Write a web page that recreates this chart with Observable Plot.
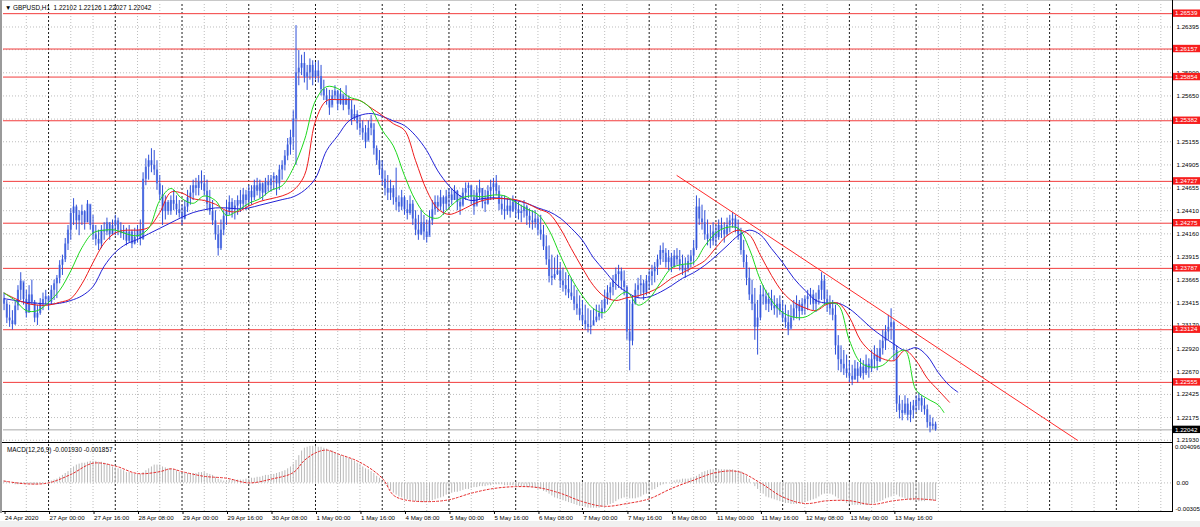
<!DOCTYPE html>
<html><head><meta charset="utf-8">
<script src="https://cdn.jsdelivr.net/npm/d3@7"></script>
<script src="https://cdn.jsdelivr.net/npm/@observablehq/plot@0.6"></script>
<style>
html,body{margin:0;padding:0;background:#fff;}
#wrap{position:relative;width:1200px;height:527px;overflow:hidden;background:#fff;font-family:"Liberation Sans",Arial,sans-serif;}
#wrap svg{position:absolute;left:0;overflow:visible;}
.txt{position:absolute;font-size:6.4px;color:#000;white-space:pre;line-height:7px;}
.ln{position:absolute;background:#000;}
</style></head><body><div id="wrap"></div>
<script>
// ---------- DATA ----------
const firstBar = -16; // bar index of first candle (24 Apr 2020 08:00); 27 Apr 00:00 = 0
const open = [
1.2345,1.2340,1.2325,1.2322,1.2318,1.2338,1.2355,1.2365,1.2345,1.2330,1.2350,1.2342,1.2325,1.2330,1.2340,1.2345,
1.2348,1.2342,1.2355,1.2362,1.2368,1.2382,1.2388,1.2405,1.2420,1.2438,1.2445,1.2430,1.2436,1.2440,1.2428,1.2448,
1.2425,1.2415,1.2410,1.2405,1.2420,1.2418,1.2428,1.2415,1.2425,1.2430,1.2420,1.2416,1.2418,1.2408,1.2418,1.2405,
1.2412,1.2420,1.2410,1.2475,1.2488,1.2495,1.2490,1.2485,1.2470,1.2458,1.2440,1.2450,1.2440,1.2452,1.2448,1.2442,
1.2438,1.2432,1.2445,1.2455,1.2460,1.2468,1.2465,1.2472,1.2470,1.2462,1.2448,1.2440,1.2430,1.2415,1.2400,1.2420,
1.2435,1.2440,1.2450,1.2442,1.2446,1.2452,1.2448,1.2458,1.2452,1.2462,1.2455,1.2468,1.2462,1.2470,1.2460,1.2472,
1.2468,1.2475,1.2478,1.2470,1.2485,1.2490,1.2500,1.2512,1.2520,1.2540,1.2590,1.2595,1.2600,1.2585,1.2590,1.2598,
1.2585,1.2592,1.2586,1.2572,1.2565,1.2560,1.2552,1.2565,1.2570,1.2556,1.2567,1.2555,1.2562,1.2550,1.2540,1.2545,
1.2535,1.2530,1.2525,1.2515,1.2530,1.2535,1.2508,1.2495,1.2485,1.2475,1.2465,1.2460,1.2465,1.2455,1.2450,1.2445,
1.2455,1.2442,1.2438,1.2448,1.2432,1.2420,1.2415,1.2428,1.2418,1.2412,1.2430,1.2442,1.2450,1.2445,1.2455,1.2448,
1.2456,1.2458,1.2452,1.2462,1.2450,1.2445,1.2460,1.2465,1.2468,1.2455,1.2445,1.2460,1.2465,1.2450,1.2448,1.2462,
1.2466,1.2470,1.2462,1.2448,1.2442,1.2440,1.2446,1.2440,1.2450,1.2442,1.2438,1.2440,1.2445,1.2435,1.2430,1.2428,
1.2432,1.2420,1.2415,1.2402,1.2388,1.2370,1.2368,1.2372,1.2376,1.2365,1.2360,1.2356,1.2352,1.2348,1.2340,1.2335,
1.2328,1.2322,1.2318,1.2315,1.2316,1.2322,1.2326,1.2330,1.2335,1.2345,1.2352,1.2358,1.2365,1.2372,1.2375,1.2365,
1.2358,1.2310,1.2300,1.2340,1.2355,1.2360,1.2362,1.2352,1.2365,1.2370,1.2375,1.2380,1.2388,1.2398,1.2395,1.2385,
1.2390,1.2380,1.2392,1.2388,1.2382,1.2376,1.2378,1.2386,1.2392,1.2400,1.2445,1.2432,1.2428,1.2415,1.2410,1.2408,
1.2418,1.2412,1.2425,1.2420,1.2415,1.2425,1.2430,1.2432,1.2422,1.2415,1.2398,1.2385,1.2368,1.2350,1.2340,1.2315,
1.2325,1.2350,1.2348,1.2340,1.2345,1.2338,1.2335,1.2340,1.2332,1.2325,1.2320,1.2312,1.2325,1.2335,1.2340,1.2332,
1.2340,1.2345,1.2348,1.2350,1.2340,1.2345,1.2355,1.2365,1.2345,1.2340,1.2335,1.2328,1.2295,1.2280,1.2275,1.2270,
1.2265,1.2262,1.2258,1.2270,1.2262,1.2272,1.2265,1.2275,1.2270,1.2280,1.2285,1.2278,1.2292,1.2300,1.2310,1.2315,
1.2320,1.2290,1.2232,1.2225,1.2222,1.2232,1.2220,1.2225,1.2230,1.2235,1.2238,1.2230,1.2226,1.2212,1.2208,1.22102];
const high = [
1.2352,1.2344,1.2339,1.2333,1.2344,1.2360,1.2374,1.2363,1.2355,1.2360,1.2366,1.2344,1.2339,1.2346,1.2352,1.2355,
1.2349,1.2360,1.2366,1.2371,1.2387,1.2393,1.2411,1.2425,1.2443,1.2454,1.2447,1.2441,1.2447,1.2441,1.2452,1.2447,
1.2436,1.2425,1.2420,1.2425,1.2428,1.2433,1.2428,1.2431,1.2436,1.2433,1.2428,1.2425,1.2422,1.2425,1.2420,1.2422,
1.2425,1.2431,1.2482,1.2497,1.2501,1.2508,1.2506,1.2495,1.2479,1.2468,1.2457,1.2452,1.2457,1.2463,1.2457,1.2452,
1.2447,1.2452,1.2463,1.2468,1.2474,1.2476,1.2479,1.2484,1.2479,1.2474,1.2463,1.2452,1.2441,1.2425,1.2431,1.2441,
1.2452,1.2457,1.2454,1.2452,1.2457,1.2463,1.2465,1.2463,1.2468,1.2468,1.2474,1.2476,1.2474,1.2471,1.2476,1.2479,
1.2479,1.2482,1.2479,1.2490,1.2495,1.2506,1.2519,1.2528,1.2549,1.2641,1.2614,1.2609,1.2612,1.2598,1.2605,1.2603,
1.2601,1.2603,1.2598,1.2582,1.2573,1.2571,1.2571,1.2576,1.2571,1.2573,1.2565,1.2576,1.2565,1.2560,1.2555,1.2549,
1.2544,1.2538,1.2533,1.2538,1.2544,1.2528,1.2511,1.2506,1.2495,1.2484,1.2479,1.2474,1.2468,1.2487,1.2457,1.2463,
1.2457,1.2452,1.2457,1.2452,1.2441,1.2436,1.2441,1.2436,1.2431,1.2441,1.2452,1.2457,1.2457,1.2463,1.2457,1.2463,
1.2465,1.2465,1.2468,1.2463,1.2457,1.2465,1.2471,1.2471,1.2468,1.2463,1.2468,1.2474,1.2465,1.2463,1.2468,1.2474,
1.2476,1.2479,1.2468,1.2457,1.2457,1.2454,1.2452,1.2457,1.2452,1.2450,1.2447,1.2452,1.2447,1.2443,1.2441,1.2441,
1.2436,1.2436,1.2425,1.2414,1.2403,1.2393,1.2390,1.2393,1.2385,1.2379,1.2374,1.2371,1.2368,1.2360,1.2355,1.2349,
1.2344,1.2339,1.2335,1.2333,1.2335,1.2339,1.2339,1.2344,1.2355,1.2360,1.2363,1.2371,1.2379,1.2382,1.2379,1.2376,
1.2360,1.2344,1.2349,1.2362,1.2368,1.2371,1.2366,1.2371,1.2376,1.2382,1.2385,1.2393,1.2403,1.2406,1.2400,1.2398,
1.2395,1.2398,1.2400,1.2398,1.2393,1.2390,1.2393,1.2398,1.2409,1.2457,1.2454,1.2447,1.2441,1.2431,1.2425,1.2428,
1.2425,1.2431,1.2433,1.2428,1.2433,1.2436,1.2439,1.2436,1.2431,1.2422,1.2409,1.2393,1.2379,1.2366,1.2357,1.2344,
1.2360,1.2360,1.2355,1.2352,1.2355,1.2349,1.2346,1.2349,1.2344,1.2339,1.2333,1.2339,1.2344,1.2349,1.2344,1.2346,
1.2349,1.2355,1.2357,1.2355,1.2352,1.2360,1.2374,1.2371,1.2355,1.2349,1.2344,1.2339,1.2306,1.2295,1.2290,1.2285,
1.2279,1.2274,1.2279,1.2277,1.2281,1.2279,1.2285,1.2281,1.2290,1.2295,1.2292,1.2301,1.2312,1.2317,1.2328,1.2335,
1.2322,1.2295,1.2241,1.2236,1.2241,1.2238,1.2234,1.2236,1.2241,1.2244,1.2241,1.2238,1.2231,1.2220,1.2217,1.22126];
const low = [
1.2333,1.2319,1.2315,1.2312,1.2317,1.2333,1.2344,1.2339,1.2325,1.2331,1.2339,1.2320,1.2317,1.2328,1.2333,1.2339,
1.2333,1.2339,1.2344,1.2346,1.2362,1.2371,1.2385,1.2398,1.2409,1.2425,1.2420,1.2414,1.2425,1.2420,1.2428,1.2420,
1.2409,1.2403,1.2398,1.2400,1.2409,1.2414,1.2409,1.2414,1.2414,1.2414,1.2411,1.2409,1.2403,1.2406,1.2400,1.2404,
1.2406,1.2403,1.2409,1.2468,1.2474,1.2482,1.2479,1.2463,1.2452,1.2425,1.2431,1.2436,1.2436,1.2441,1.2436,1.2433,
1.2425,1.2431,1.2439,1.2447,1.2452,1.2457,1.2457,1.2463,1.2457,1.2441,1.2436,1.2425,1.2409,1.2392,1.2398,1.2414,
1.2425,1.2436,1.2433,1.2431,1.2436,1.2439,1.2443,1.2441,1.2447,1.2447,1.2452,1.2457,1.2454,1.2452,1.2457,1.2461,
1.2461,1.2463,1.2457,1.2463,1.2474,1.2484,1.2495,1.2501,1.2506,1.2490,1.2576,1.2587,1.2579,1.2571,1.2582,1.2576,
1.2582,1.2579,1.2565,1.2560,1.2555,1.2544,1.2555,1.2560,1.2549,1.2555,1.2549,1.2555,1.2544,1.2533,1.2538,1.2528,
1.2522,1.2517,1.2508,1.2517,1.2522,1.2501,1.2490,1.2479,1.2468,1.2457,1.2452,1.2452,1.2447,1.2441,1.2439,1.2441,
1.2436,1.2431,1.2436,1.2425,1.2414,1.2409,1.2414,1.2409,1.2406,1.2414,1.2425,1.2436,1.2439,1.2441,1.2436,1.2441,
1.2443,1.2447,1.2452,1.2441,1.2436,1.2447,1.2452,1.2454,1.2447,1.2436,1.2447,1.2452,1.2443,1.2439,1.2447,1.2452,
1.2452,1.2457,1.2441,1.2436,1.2431,1.2436,1.2433,1.2439,1.2433,1.2431,1.2428,1.2433,1.2425,1.2422,1.2420,1.2422,
1.2414,1.2409,1.2398,1.2382,1.2363,1.2360,1.2366,1.2371,1.2357,1.2353,1.2349,1.2346,1.2344,1.2333,1.2328,1.2322,
1.2317,1.2312,1.2309,1.2307,1.2317,1.2320,1.2322,1.2324,1.2331,1.2339,1.2344,1.2349,1.2355,1.2357,1.2355,1.2349,
1.2301,1.2268,1.2295,1.2339,1.2346,1.2349,1.2344,1.2349,1.2355,1.2360,1.2363,1.2371,1.2382,1.2385,1.2379,1.2376,
1.2374,1.2379,1.2382,1.2376,1.2371,1.2368,1.2374,1.2379,1.2382,1.2398,1.2425,1.2420,1.2409,1.2403,1.2400,1.2403,
1.2403,1.2409,1.2411,1.2406,1.2413,1.2417,1.2422,1.2417,1.2409,1.2393,1.2379,1.2360,1.2344,1.2333,1.2301,1.2285,
1.2322,1.2339,1.2333,1.2331,1.2333,1.2328,1.2325,1.2328,1.2320,1.2314,1.2306,1.2314,1.2322,1.2324,1.2322,1.2328,
1.2328,1.2333,1.2339,1.2333,1.2331,1.2339,1.2344,1.2339,1.2331,1.2328,1.2322,1.2285,1.2268,1.2266,1.2263,1.2260,
1.2255,1.2252,1.2258,1.2255,1.2260,1.2258,1.2263,1.2260,1.2266,1.2270,1.2268,1.2277,1.2285,1.2290,1.2301,1.2301,
1.2279,1.2223,1.2216,1.2214,1.2220,1.2214,1.2212,1.2216,1.2223,1.2225,1.2223,1.2220,1.2206,1.2201,1.2204,1.22027];
const close = [
1.2340,1.2325,1.2322,1.2318,1.2338,1.2355,1.2365,1.2345,1.2330,1.2350,1.2342,1.2325,1.2330,1.2340,1.2345,1.2348,
1.2342,1.2355,1.2362,1.2368,1.2382,1.2388,1.2405,1.2420,1.2438,1.2445,1.2430,1.2436,1.2440,1.2428,1.2448,1.2425,
1.2415,1.2410,1.2405,1.2420,1.2418,1.2428,1.2415,1.2425,1.2430,1.2420,1.2416,1.2418,1.2408,1.2418,1.2405,1.2412,
1.2420,1.2410,1.2475,1.2488,1.2495,1.2490,1.2485,1.2470,1.2458,1.2440,1.2450,1.2440,1.2452,1.2448,1.2442,1.2438,
1.2432,1.2445,1.2455,1.2460,1.2468,1.2465,1.2472,1.2470,1.2462,1.2448,1.2440,1.2430,1.2415,1.2400,1.2420,1.2435,
1.2440,1.2450,1.2442,1.2446,1.2452,1.2448,1.2458,1.2452,1.2462,1.2455,1.2468,1.2462,1.2470,1.2460,1.2472,1.2468,
1.2475,1.2478,1.2470,1.2485,1.2490,1.2500,1.2512,1.2520,1.2540,1.2590,1.2595,1.2600,1.2585,1.2590,1.2598,1.2585,
1.2592,1.2586,1.2572,1.2565,1.2560,1.2552,1.2565,1.2570,1.2556,1.2567,1.2555,1.2562,1.2550,1.2540,1.2545,1.2535,
1.2530,1.2525,1.2515,1.2530,1.2535,1.2508,1.2495,1.2485,1.2475,1.2465,1.2460,1.2465,1.2455,1.2450,1.2445,1.2455,
1.2442,1.2438,1.2448,1.2432,1.2420,1.2415,1.2428,1.2418,1.2412,1.2430,1.2442,1.2450,1.2445,1.2455,1.2448,1.2456,
1.2458,1.2452,1.2462,1.2450,1.2445,1.2460,1.2465,1.2468,1.2455,1.2445,1.2460,1.2465,1.2450,1.2448,1.2462,1.2466,
1.2470,1.2462,1.2448,1.2442,1.2440,1.2446,1.2440,1.2450,1.2442,1.2438,1.2440,1.2445,1.2435,1.2430,1.2428,1.2432,
1.2420,1.2415,1.2402,1.2388,1.2370,1.2368,1.2372,1.2376,1.2365,1.2360,1.2356,1.2352,1.2348,1.2340,1.2335,1.2328,
1.2322,1.2318,1.2315,1.2316,1.2322,1.2326,1.2330,1.2335,1.2345,1.2352,1.2358,1.2365,1.2372,1.2375,1.2365,1.2358,
1.2310,1.2300,1.2340,1.2355,1.2360,1.2362,1.2352,1.2365,1.2370,1.2375,1.2380,1.2388,1.2398,1.2395,1.2385,1.2390,
1.2380,1.2392,1.2388,1.2382,1.2376,1.2378,1.2386,1.2392,1.2400,1.2445,1.2432,1.2428,1.2415,1.2410,1.2408,1.2418,
1.2412,1.2425,1.2420,1.2415,1.2425,1.2430,1.2432,1.2422,1.2415,1.2398,1.2385,1.2368,1.2350,1.2340,1.2315,1.2325,
1.2350,1.2348,1.2340,1.2345,1.2338,1.2335,1.2340,1.2332,1.2325,1.2320,1.2312,1.2325,1.2335,1.2340,1.2332,1.2340,
1.2345,1.2348,1.2350,1.2340,1.2345,1.2355,1.2365,1.2345,1.2340,1.2335,1.2328,1.2295,1.2280,1.2275,1.2270,1.2265,
1.2262,1.2258,1.2270,1.2262,1.2272,1.2265,1.2275,1.2270,1.2280,1.2285,1.2278,1.2292,1.2300,1.2310,1.2315,1.2320,
1.2290,1.2232,1.2225,1.2222,1.2232,1.2220,1.2225,1.2230,1.2235,1.2238,1.2230,1.2226,1.2212,1.2208,1.22102,1.22042];

// Alligator lines, sampled every 4 bars (bar index of first sample = -16)
const lipsVal = [1.2352,1.2344,1.2333,1.2333,1.2342,1.2355,1.2376,1.2401,1.2417,1.2420,
1.2420,1.2416,1.2414,1.2422,1.2452,1.2465,1.2454,1.2449,1.2457,1.2452,
1.2436,1.2441,1.2449,1.2454,1.2463,1.2468,1.2487,1.2517,1.2560,1.2575,
1.2573,1.2564,1.2560,1.2551,1.2528,1.2511,1.2479,1.2452,1.2436,1.2433,
1.2444,1.2454,1.2457,1.2456,1.2458,1.2457,1.2450,1.2443,1.2437,1.2420,
1.2393,1.2368,1.2349,1.2335,1.2331,1.2346,1.2353,1.2339,1.2346,1.2363,
1.2379,1.2383,1.2385,1.2403,1.2417,1.2423,1.2422,1.2400,1.2366,1.2344,
1.2331,1.2326,1.2326,1.2333,1.2341,1.2339,1.2301,1.2277,1.2272,1.2274,
1.2285,1.2290,1.2247,1.2238,1.2231,1.2223];
const teethVal = [1.2352,1.2346,1.2341,1.2339,1.2339,1.2342,1.2346,1.2362,1.2385,1.2406,
1.2417,1.2420,1.2420,1.2423,1.2439,1.2461,1.2460,1.2454,1.2452,1.2448,
1.2441,1.2440,1.2446,1.2451,1.2454,1.2457,1.2463,1.2479,1.2538,1.2560,
1.2561,1.2561,1.2560,1.2552,1.2544,1.2535,1.2528,1.2495,1.2463,1.2443,
1.2437,1.2441,1.2447,1.2452,1.2454,1.2454,1.2453,1.2449,1.2443,1.2438,
1.2422,1.2400,1.2379,1.2360,1.2348,1.2344,1.2347,1.2349,1.2353,1.2359,
1.2368,1.2374,1.2380,1.2387,1.2401,1.2414,1.2420,1.2415,1.2393,1.2371,
1.2353,1.2342,1.2336,1.2333,1.2340,1.2341,1.2326,1.2301,1.2288,1.2281,
1.2279,1.2290,1.2279,1.2260,1.2247,1.2234];
const jawVal = [1.2346,1.2344,1.2342,1.2341,1.2340,1.2341,1.2344,1.2349,1.2359,1.2381,
1.2396,1.2405,1.2410,1.2416,1.2422,1.2428,1.2434,1.2439,1.2442,1.2444,
1.2444,1.2443,1.2444,1.2447,1.2450,1.2453,1.2456,1.2463,1.2476,1.2506,
1.2522,1.2538,1.2544,1.2546,1.2543,1.2538,1.2533,1.2522,1.2506,1.2484,
1.2468,1.2457,1.2452,1.2454,1.2455,1.2454,1.2452,1.2449,1.2444,1.2440,
1.2433,1.2422,1.2409,1.2390,1.2376,1.2362,1.2353,1.2347,1.2348,1.2353,
1.2360,1.2368,1.2374,1.2382,1.2392,1.2403,1.2414,1.2420,1.2415,1.2400,
1.2385,1.2368,1.2355,1.2344,1.2341,1.2341,1.2335,1.2325,1.2314,1.2305,
1.2297,1.2290,1.2293,1.2284,1.2266,1.2252,1.2245];
const lipsIdx = d3.range(-16, 321, 4).concat([322]);
const teethIdx = d3.range(-16, 325, 4);
const jawIdx = d3.range(-16, 325, 4).concat([327]);

// MACD(12,26,9) main values, one per bar
const macd = [
0.0002,0.0001,0.0000,-0.0001,-0.0002,-0.0002,-0.0001,-0.0001,-0.0001,-0.0001,-0.0002,-0.0002,-0.0002,-0.0001,-0.0001,0.0000,
0.0001,0.0002,0.0003,0.0004,0.0006,0.0008,0.0010,0.0012,0.0015,0.0017,0.0019,0.0020,0.0021,0.0021,0.0022,0.0023,
0.0023,0.0023,0.0022,0.0022,0.0021,0.0020,0.0019,0.0017,0.0016,0.0015,0.0014,0.0013,0.0011,0.0011,0.0010,0.0009,
0.0009,0.0009,0.0011,0.0013,0.0015,0.0017,0.0019,0.0019,0.0019,0.0017,0.0016,0.0015,0.0015,0.0014,0.0013,0.0011,
0.0011,0.0010,0.0010,0.0010,0.0010,0.0010,0.0011,0.0011,0.0011,0.0010,0.0009,0.0008,0.0006,0.0004,0.0003,0.0002,
0.0002,0.0003,0.0003,0.0003,0.0003,0.0003,0.0003,0.0004,0.0004,0.0005,0.0005,0.0006,0.0006,0.0007,0.0008,0.0008,
0.0009,0.0009,0.0010,0.0011,0.0012,0.0013,0.0015,0.0017,0.0020,0.0024,0.0029,0.0034,0.0037,0.0038,0.0039,0.0039,
0.0039,0.0038,0.0038,0.0037,0.0036,0.0034,0.0034,0.0032,0.0031,0.0029,0.0028,0.0027,0.0026,0.0025,0.0023,0.0021,
0.0020,0.0017,0.0015,0.0014,0.0012,0.0010,0.0007,0.0005,0.0001,-0.0002,-0.0005,-0.0008,-0.0011,-0.0013,-0.0015,-0.0016,
-0.0017,-0.0018,-0.0019,-0.0019,-0.0020,-0.0020,-0.0021,-0.0021,-0.0021,-0.0020,-0.0019,-0.0018,-0.0017,-0.0016,-0.0015,-0.0013,
-0.0012,-0.0011,-0.0010,-0.0010,-0.0009,-0.0008,-0.0007,-0.0007,-0.0006,-0.0005,-0.0005,-0.0004,-0.0004,-0.0004,-0.0003,-0.0003,
-0.0002,-0.0002,-0.0002,-0.0002,-0.0003,-0.0003,-0.0003,-0.0003,-0.0004,-0.0004,-0.0004,-0.0004,-0.0005,-0.0005,-0.0005,-0.0006,
-0.0007,-0.0007,-0.0009,-0.0010,-0.0012,-0.0014,-0.0016,-0.0017,-0.0018,-0.0019,-0.0020,-0.0021,-0.0022,-0.0023,-0.0024,-0.0025,
-0.0025,-0.0026,-0.0027,-0.0027,-0.0027,-0.0027,-0.0027,-0.0026,-0.0025,-0.0024,-0.0023,-0.0022,-0.0020,-0.0018,-0.0017,-0.0016,
-0.0016,-0.0017,-0.0017,-0.0017,-0.0016,-0.0015,-0.0013,-0.0012,-0.0010,-0.0008,-0.0007,-0.0005,-0.0003,-0.0002,-0.0001,0.0000,
0.0001,0.0002,0.0003,0.0003,0.0004,0.0004,0.0004,0.0005,0.0006,0.0007,0.0009,0.0011,0.0012,0.0013,0.0014,0.0014,
0.0014,0.0014,0.0014,0.0014,0.0014,0.0014,0.0014,0.0013,0.0013,0.0012,0.0010,0.0007,0.0004,0.0000,-0.0004,-0.0007,
-0.0010,-0.0012,-0.0015,-0.0016,-0.0017,-0.0018,-0.0019,-0.0020,-0.0021,-0.0022,-0.0022,-0.0023,-0.0023,-0.0023,-0.0022,-0.0022,
-0.0021,-0.0020,-0.0019,-0.0018,-0.0017,-0.0015,-0.0013,-0.0012,-0.0012,-0.0012,-0.0013,-0.0015,-0.0017,-0.0019,-0.0020,-0.0022,
-0.0023,-0.0024,-0.0024,-0.0024,-0.0024,-0.0024,-0.0024,-0.0024,-0.0023,-0.0022,-0.0021,-0.0020,-0.0019,-0.0017,-0.0016,-0.0015,
-0.0013,-0.0013,-0.0015,-0.0016,-0.0017,-0.0018,-0.0019,-0.0019,-0.0020,-0.0020,-0.0020,-0.0020,-0.0019,-0.0019,-0.0019,-0.00193];
const sigIdx = [-16,-8,0,8,16,24,32,40,44,48,56,64,72,80,88,92,96,100,104,112,120,124,128,136,144,152,160,168,176,184,192,200,208,216,224,232,240,248,256,264,272,280,288,296,304,312,319];
const sigVal = [0.0002,-0.0001,0.0000,0.0009,0.0021,0.0018,0.0010,0.0012,0.0015,0.0012,0.0007,0.0005,0.0000,0.0004,0.0011,0.0024,0.0032,0.0035,0.0031,0.0022,0.0005,-0.0013,-0.0018,-0.0020,-0.0018,-0.0011,-0.0006,-0.0004,-0.0005,-0.0011,-0.0020,-0.0025,-0.0022,-0.0017,-0.0006,0.0003,0.0011,0.0012,0.0000,-0.0015,-0.0022,-0.0019,-0.0019,-0.0023,-0.0019,-0.0017,-0.001857];

const levels = [1.26539,1.26157,1.25854,1.25382,1.24727,1.24275,1.23787,1.23124,1.22555];
const priceTicks = [1.26395,1.26150,1.25900,1.25650,1.25400,1.25155,1.24905,1.24655,1.24410,1.24160,1.23915,1.23665,1.23415,1.23170,1.22920,1.22670,1.22425,1.22175,1.21930];
// tick labels not hidden behind the level tags
const priceLabels = [1.26395,1.25900,1.25650,1.25155,1.24905,1.24655,1.24410,1.24160,1.23915,1.23665,1.23415,1.23170,1.22920,1.22670,1.22425,1.22175,1.21930];
const lastPrice = 1.22042;
const trendIdx = [226, 370];
const trendVal = [1.2479, 1.2193];
const timeIdx = [-16,0,16,32,48,64,80,96,112,128,144,160,176,192,208,224,240,256,272,288,304];
const timeLabels = ["24 Apr 2020","27 Apr 00:00","27 Apr 16:00","28 Apr 08:00","29 Apr 00:00","29 Apr 16:00","30 Apr 08:00","1 May 00:00","1 May 16:00","4 May 08:00","5 May 00:00","5 May 16:00","6 May 08:00","7 May 00:00","7 May 16:00","8 May 08:00","11 May 00:00","11 May 16:00","12 May 08:00","13 May 00:00","13 May 16:00"];
const macdTicks = [0.004096, 0.00, -0.00305];
const macdTickLabels = ["0.004096","0.00","-0.00305"];
const header = "GBPUSD,H1  1.22102 1.22126 1.22027 1.22042";
const macdHeader = "MACD(12,26,9) -0.001930 -0.001857";

// ---------- BUILD ----------
const FONT = "Liberation Sans, Arial, sans-serif";
const bars = close.map((c, k) => ({i: firstBar + k, o: open[k], h: high[k], l: low[k], c}));
const lips = lipsVal.map((v, k) => ({i: lipsIdx[k], v}));
const teeth = teethVal.map((v, k) => ({i: teethIdx[k], v}));
const jaw = jawVal.map((v, k) => ({i: jawIdx[k], v}));
const trend = trendVal.map((v, k) => ({i: trendIdx[k], v}));
const macdBars = macd.map((v, k) => ({i: firstBar + k, v}));
const signal = sigVal.map((v, k) => ({i: sigIdx[k], v}));
const xDom = [-16.2, 404.2];
const grid = d3.range(-8, 404, 8);
const minorGrid = grid.filter(v => v % 24 !== 0);
const dayGrid = grid.filter(v => v % 24 === 0);
const GRID = "#bdbdbd";

const wrap = document.getElementById("wrap");

const main = Plot.plot({
  width: 1200, height: 444, marginLeft: 3, marginRight: 28, marginTop: 4, marginBottom: 2,
  x: {domain: xDom, axis: null},
  y: {domain: [1.219055, 1.266381], axis: null},
  style: {background: "transparent", fontFamily: FONT, fontSize: "6.2px", color: "#000"},
  marks: [
    Plot.ruleY(priceTicks, {stroke: GRID, strokeDasharray: "1,2"}),
    Plot.ruleX(minorGrid, {stroke: GRID, strokeDasharray: "1,2"}),
    Plot.ruleX(dayGrid, {stroke: "#000", strokeDasharray: "2,2", strokeWidth: 0.9}),
    Plot.ruleY(levels, {stroke: "#f23c3c", strokeWidth: 1}),
    Plot.ruleY([lastPrice], {stroke: "#a8a8a8"}),
    Plot.ruleX(bars, {x: "i", y1: "o", y2: "c", stroke: "#7d96ec", strokeWidth: 2.2}),
    Plot.ruleX(bars, {x: "i", y1: "l", y2: "h", stroke: "#2f50d8", strokeWidth: 1}),
    Plot.line(jaw, {x: "i", y: "v", stroke: "#2222d6", strokeWidth: 1, curve: "catmull-rom"}),
    Plot.line(teeth, {x: "i", y: "v", stroke: "#ee1c1c", strokeWidth: 1, curve: "catmull-rom"}),
    Plot.line(lips, {x: "i", y: "v", stroke: "#1ed81e", strokeWidth: 1, curve: "catmull-rom"}),
    Plot.line(trend, {x: "i", y: "v", stroke: "#ff2a2a", strokeWidth: 1, clip: true}),
    Plot.text(priceLabels, {y: d => d, text: d => d.toFixed(5), frameAnchor: "right", textAnchor: "start", dx: 4, fill: "#000"})
  ]
});
main.style.top = "0px";
wrap.appendChild(main);

// price tags for levels (red) and last price (black), placed via the y scale
{
  const yS = main.scale("y"), xS = main.scale("x");
  const right = xS.range[1];
  const g = d3.select(main).append("g").attr("font-family", FONT).attr("font-size", 6.2).attr("text-anchor", "start");
  const tag = (v, bg) => {
    const y = yS.apply(v);
    g.append("rect").attr("x", right + 1).attr("y", y - 3.7).attr("width", 28).attr("height", 7.4).attr("fill", bg);
    g.append("text").attr("x", right + 3).attr("y", y).attr("dy", "0.35em").attr("text-anchor", "start").attr("fill", "#fff").text(v.toFixed(5));
  };
  levels.forEach(v => tag(v, "#f71e1e"));
  tag(lastPrice, "#000");
}

const macdPlot = Plot.plot({
  width: 1200, height: 86, marginLeft: 3, marginRight: 28, marginTop: 1, marginBottom: 18,
  x: {domain: xDom, axis: null},
  y: {domain: [-0.00305, 0.004096], axis: null},
  style: {background: "transparent", fontFamily: FONT, fontSize: "6.2px", color: "#000"},
  marks: [
    Plot.ruleX(minorGrid, {stroke: GRID, strokeDasharray: "1,2"}),
    Plot.ruleX(dayGrid, {stroke: "#000", strokeDasharray: "2,2", strokeWidth: 0.9}),
    Plot.ruleY([0], {stroke: GRID, strokeDasharray: "1,2"}),
    Plot.ruleX(macdBars, {x: "i", y1: 0, y2: "v", stroke: "#b9b9b9", strokeWidth: 1}),
    Plot.line(signal, {x: "i", y: "v", stroke: "#e62a2a", strokeWidth: 1, strokeDasharray: "2,2", curve: "catmull-rom"}),
    Plot.text([macdTicks[0]], {y: d => d, text: () => macdTickLabels[0], frameAnchor: "right", textAnchor: "start", dx: 2.5, lineAnchor: "top", dy: 0.5, fontSize: 6, fill: "#000"}),
    Plot.text([macdTicks[1]], {y: d => d, text: () => macdTickLabels[1], frameAnchor: "right", textAnchor: "start", dx: 4, lineAnchor: "middle", fill: "#000"}),
    Plot.text([macdTicks[2]], {y: d => d, text: () => macdTickLabels[2], frameAnchor: "right", textAnchor: "start", dx: 3, lineAnchor: "bottom", dy: -1, fill: "#000"}),
    Plot.axisX(timeIdx, {tickFormat: d => timeLabels[timeIdx.indexOf(d)], textAnchor: "start", tickSize: 3, tickPadding: 1.5, dx: 1, fontSize: 6.2, stroke: "#000"})
  ]
});
macdPlot.style.top = "443px";
wrap.appendChild(macdPlot);

// chart window structure
const line = (l, t, w, h, c) => { const d = document.createElement("div"); d.className = "ln"; Object.assign(d.style, {left: l + "px", top: t + "px", width: w + "px", height: h + "px", background: c}); wrap.appendChild(d); };
line(0, 0, 1200, 1, "#c8c8c8");
line(0, 0, 2, 513, "#9a9a9a");
line(1172, 0, 1, 512, "#000");
line(2, 442, 1171, 1, "#000");
line(2, 511, 1171, 1, "#000");
line(0, 521, 1200, 6, "#f0f0f0");

const h = document.createElement("div"); h.className = "txt"; h.style.left = "5px"; h.style.top = "4px";
h.textContent = "\u25BC " + header; wrap.appendChild(h);
const m = document.createElement("div"); m.className = "txt"; m.style.left = "7px"; m.style.top = "446px";
m.textContent = macdHeader; wrap.appendChild(m);
</script></body></html>
